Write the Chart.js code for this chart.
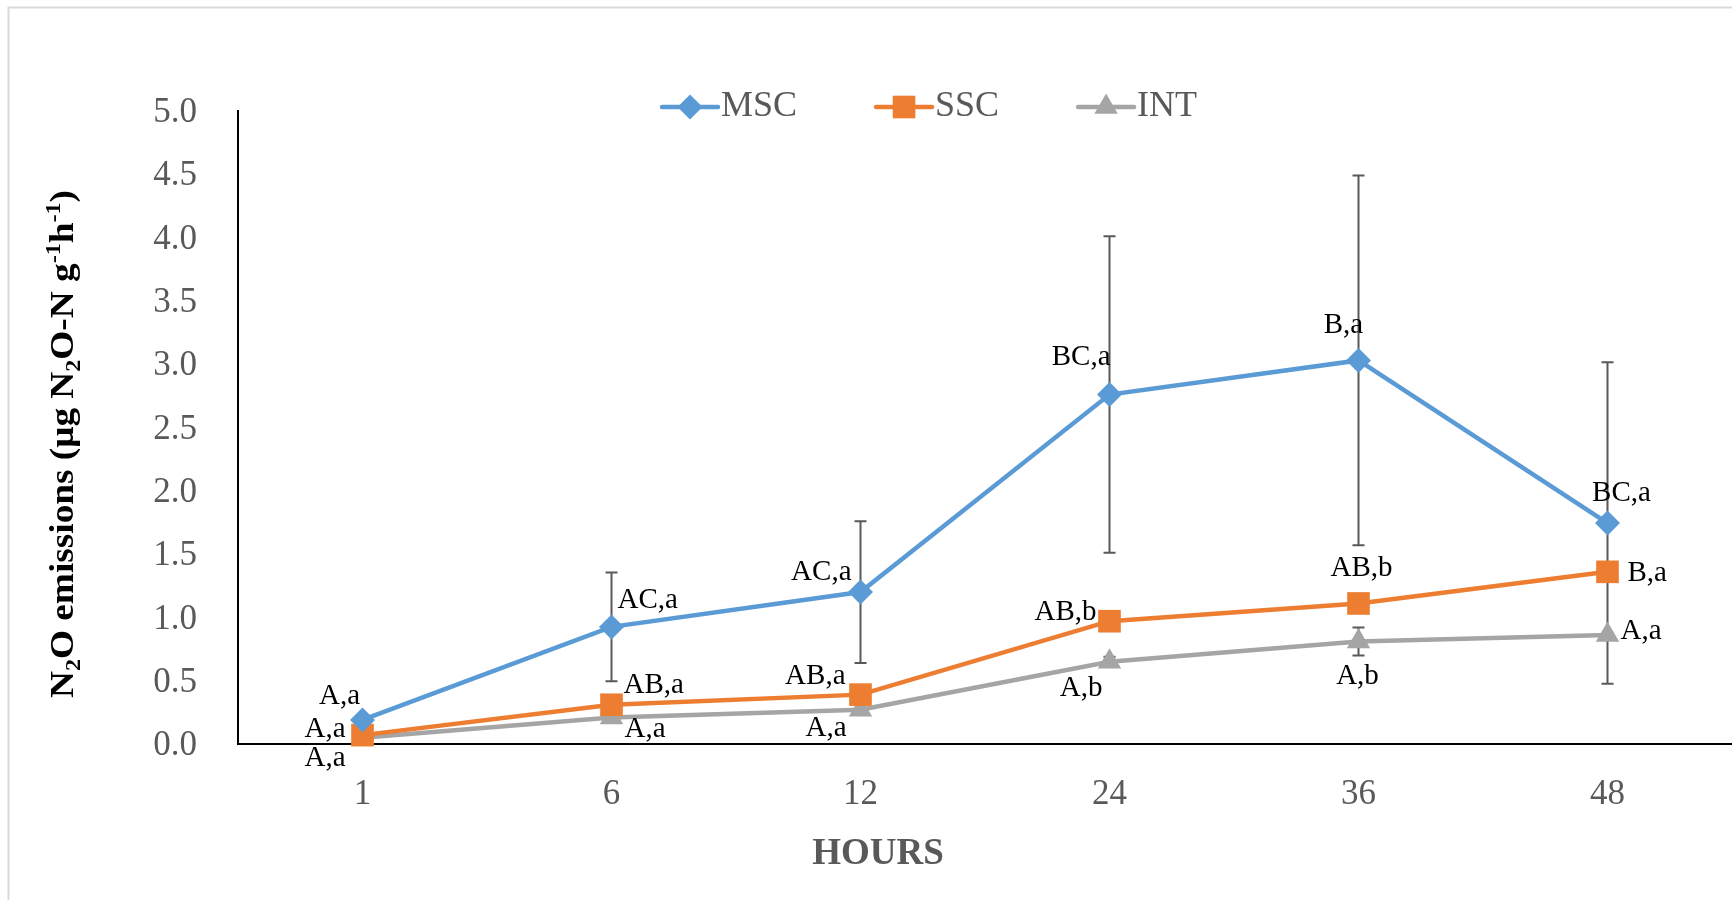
<!DOCTYPE html>
<html>
<head>
<meta charset="utf-8">
<script src="https://cdn.jsdelivr.net/npm/chart.js@4.4.1/dist/chart.umd.min.js"></script>
<style>
  html, body { margin: 0; padding: 0; background: #fff; overflow: hidden; }
  canvas { display: block; }
</style>
</head>
<body>
<canvas id="myChart" width="1732" height="900"></canvas>
<script>
// Datos
const horas = ["1", "6", "12", "24", "36", "48"];
const nombres = ["MSC", "SSC", "INT"];

const msc = [0.19, 0.925, 1.2, 2.76, 3.03, 1.745];
const ssc = [0.07, 0.31, 0.39, 0.97, 1.11, 1.36];
const intc = [0.05, 0.21, 0.27, 0.65, 0.81, 0.86];

const errMsc = [0.03, 0.43, 0.56, 1.25, 1.46, 1.27];
const errSsc = [0, 0, 0, 0, 0, 0];
const errInt = [0, 0, 0, 0.04, 0.11, 0];

const letrasMsc = ["A,a", "AC,a", "AC,a", "BC,a", "B,a", "BC,a"];
const letrasSsc = ["A,a", "AB,a", "AB,a", "AB,b", "AB,b", "B,a"];
const letrasInt = ["A,a", "A,a", "A,a", "A,b", "A,b", "A,a"];

const yMin = 0;
const yMax = 5;
const yPaso = 0.5;

// colores y estilos
const colores = ["#5B9BD5", "#ED7D31", "#A5A5A5"];
const marcas = ["rectRot", "rect", "triangle"];
const radios = [12.5, 16, 13.5];
const fuente = "'Liberation Serif', 'Times New Roman', serif";
const gris = "#595959";

// posicion de cada etiqueta respecto a su punto: [alineacion, dx, dy]
const posMsc = [["center", -23, -24], ["left", 6, -27], ["right", -9, -20], ["right", 1, -37], ["center", -15, -35], ["center", 14, -30]];
const posSsc = [["right", -17, -6], ["left", 12, -19], ["right", -15, -18], ["right", -13, -9], ["center", 3, -35], ["left", 20, 2]];
const posInt = [["right", -17, 21], ["left", 13, 12], ["right", -14, 19], ["right", -7, 27], ["center", -1, 35], ["left", 13, -4]];

const errores = [errMsc, errSsc, errInt];
const letras = [letrasMsc, letrasSsc, letrasInt];
const posiciones = [posMsc, posSsc, posInt];

// marco gris claro alrededor
const marco = {
  id: "marco",
  beforeDraw(chart) {
    const ctx = chart.ctx;
    ctx.save();
    ctx.fillStyle = "#fff";
    ctx.fillRect(0, 0, chart.width, chart.height);
    ctx.strokeStyle = "#d9d9d9";
    ctx.lineWidth = 2;
    ctx.strokeRect(8.5, 7.5, 3000, 3000);
    ctx.restore();
  },
};

// barras de error
const barrasError = {
  id: "barrasError",
  beforeDatasetsDraw(chart) {
    const ctx = chart.ctx;
    const y = chart.scales.y;
    ctx.save();
    ctx.strokeStyle = gris;
    ctx.lineWidth = 2;
    chart.data.datasets.forEach((ds, i) => {
      const meta = chart.getDatasetMeta(i);
      meta.data.forEach((p, j) => {
        const e = errores[i][j];
        if (!e) return;
        const top = y.getPixelForValue(ds.data[j] + e);
        const bot = y.getPixelForValue(ds.data[j] - e);
        ctx.beginPath();
        ctx.moveTo(p.x, top);
        ctx.lineTo(p.x, bot);
        ctx.moveTo(p.x - 6, top);
        ctx.lineTo(p.x + 6, top);
        ctx.moveTo(p.x - 6, bot);
        ctx.lineTo(p.x + 6, bot);
        ctx.stroke();
      });
    });
    ctx.restore();
  },
};

// letras de significancia
const etiquetas = {
  id: "etiquetas",
  afterDatasetsDraw(chart) {
    const ctx = chart.ctx;
    ctx.save();
    ctx.fillStyle = "#000";
    ctx.font = "29px " + fuente;
    ctx.textBaseline = "middle";
    chart.data.datasets.forEach((ds, i) => {
      const meta = chart.getDatasetMeta(i);
      meta.data.forEach((p, j) => {
        const pos = posiciones[i][j];
        ctx.textAlign = pos[0];
        ctx.fillText(letras[i][j], p.x + pos[1], p.y + pos[2]);
      });
    });
    ctx.restore();
  },
};

function dibujarMarca(ctx, estilo, x, y, r) {
  ctx.beginPath();
  if (estilo === "rectRot") {
    ctx.moveTo(x - r, y);
    ctx.lineTo(x, y - r);
    ctx.lineTo(x + r, y);
    ctx.lineTo(x, y + r);
  } else if (estilo === "rect") {
    const s = r * Math.SQRT1_2;
    ctx.rect(x - s, y - s, 2 * s, 2 * s);
  } else {
    const a = r * Math.sin(Math.PI / 3);
    ctx.moveTo(x, y - r);
    ctx.lineTo(x + a, y + r / 2);
    ctx.lineTo(x - a, y + r / 2);
  }
  ctx.closePath();
  ctx.fill();
}

// leyenda con linea y marca
const leyenda = {
  id: "leyenda",
  afterDraw(chart) {
    const ctx = chart.ctx;
    ctx.save();
    ctx.font = "36px " + fuente;
    ctx.textBaseline = "middle";
    ctx.textAlign = "left";
    let x = 662;
    const yl = 107;
    nombres.forEach((n, i) => {
      ctx.strokeStyle = colores[i];
      ctx.fillStyle = colores[i];
      ctx.lineWidth = 4.5;
      ctx.lineCap = "round";
      ctx.beginPath();
      ctx.moveTo(x, yl);
      ctx.lineTo(x + 56, yl);
      ctx.stroke();
      dibujarMarca(ctx, marcas[i], x + 28, yl, radios[i]);
      ctx.fillStyle = gris;
      ctx.fillText(n, x + 59, yl);
      x += 59 + ctx.measureText(n).width + 79;
    });
    ctx.restore();
  },
};

// titulos de los ejes (con subindices y superindices)
const titulos = {
  id: "titulos",
  afterDraw(chart) {
    const ctx = chart.ctx;
    ctx.save();
    ctx.fillStyle = gris;
    ctx.font = "bold 37px " + fuente;
    ctx.textAlign = "center";
    ctx.textBaseline = "alphabetic";
    ctx.fillText("HOURS", 878, 864);
    ctx.restore();

    const partes = [["N", 0], ["2", 1], ["O emissions (μg N", 0], ["2", 1], ["O-N g", 0], ["-1", -1], ["h", 0], ["-1", -1], [")", 0]];
    const normal = "bold 34px " + fuente;
    const chica = "bold 22px " + fuente;
    ctx.save();
    ctx.fillStyle = "#000";
    let total = 0;
    partes.forEach((p) => {
      ctx.font = p[1] ? chica : normal;
      total += ctx.measureText(p[0]).width;
    });
    ctx.translate(61, 444);
    ctx.rotate(-Math.PI / 2);
    ctx.scale(508 / total, 1);
    ctx.textAlign = "left";
    ctx.textBaseline = "alphabetic";
    let x = -total / 2;
    partes.forEach((p) => {
      ctx.font = p[1] ? chica : normal;
      const dy = p[1] === 1 ? 19 : p[1] === -1 ? -1 : 12;
      ctx.fillText(p[0], x, dy);
      x += ctx.measureText(p[0]).width;
    });
    ctx.restore();
  },
};

const ctx = document.getElementById("myChart");
new Chart(ctx, {
  type: "line",
  data: {
    labels: horas,
    datasets: [msc, ssc, intc].map((d, i) => ({
      label: nombres[i],
      data: d,
      borderColor: colores[i],
      backgroundColor: colores[i],
      borderWidth: 4.5,
      pointStyle: marcas[i],
      pointRadius: radios[i],
      pointHoverRadius: radios[i],
      pointBorderWidth: 0,
      pointBackgroundColor: colores[i],
      tension: 0,
      clip: false,
    })),
  },
  options: {
    responsive: false,
    animation: false,
    layout: { autoPadding: false, padding: { top: 111, right: 0, left: 0, bottom: 0 } },
    plugins: {
      legend: { display: false },
      tooltip: { enabled: false },
    },
    scales: {
      x: {
        offset: true,
        grid: { display: false },
        border: { display: true, color: "#000", width: 2 },
        ticks: { color: gris, font: { family: fuente, size: 35 }, padding: 22 },
        afterFit(s) {
          s.height = 156;
          s.paddingLeft = 0;
          s.paddingRight = 0;
        },
      },
      y: {
        min: yMin,
        max: yMax,
        grid: { display: false },
        border: { display: true, color: "#000", width: 2 },
        ticks: {
          stepSize: yPaso,
          color: gris,
          font: { family: fuente, size: 35 },
          padding: 33,
          labelOffset: 2,
          callback: (v) => v.toFixed(1),
        },
        afterFit(s) { s.width = 238; },
      },
    },
  },
  plugins: [marco, barrasError, etiquetas, leyenda, titulos],
});
</script>
</body>
</html>
